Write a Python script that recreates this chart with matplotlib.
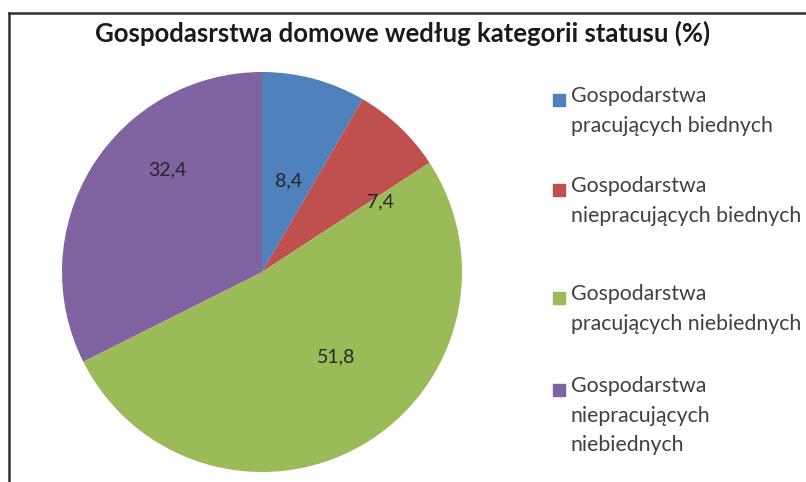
import matplotlib
matplotlib.use("Agg")
import matplotlib.pyplot as plt
from matplotlib.lines import Line2D
from matplotlib.patches import Rectangle
import numpy as np

title = "Gospodasrstwa domowe według kategorii statusu (%)"
categories = [
    "Gospodarstwa\npracujących biednych",
    "Gospodarstwa\nniepracujących biednych",
    "Gospodarstwa\npracujących niebiednych",
    "Gospodarstwa\nniepracujących\nniebiednych",
]
values = [8.4, 7.4, 51.8, 32.4]
value_labels = ["8,4", "7,4", "51,8", "32,4"]
colors = ["#4F81BD", "#C0504D", "#9BBB59", "#8064A2"]

plt.rcParams["font.family"] = ["Lato", "DejaVu Sans"]

fig = plt.figure(figsize=(8.06, 4.82), dpi=100)

# frame (only left and top edges are visible in the crop)
fig.add_artist(Line2D([9 / 806, 9 / 806], [0, 1 - 13 / 482], transform=fig.transFigure,
                      color="#303030", lw=1.8))
fig.add_artist(Line2D([9 / 806, 1], [1 - 13 / 482, 1 - 13 / 482], transform=fig.transFigure,
                      color="#303030", lw=1.8))

fig.text(0.5, 1 - 33 / 482, title, ha="center", va="center", fontsize=18.5,
         fontweight="bold", color="#1a1a1a")

ax = fig.add_axes([62 / 806, 10 / 482, 400 / 806, 400 / 482])
wedges, _ = ax.pie(values, colors=colors, startangle=90, counterclock=False,
                   wedgeprops=dict(linewidth=0))
ax.set_xlim(-1, 1)
ax.set_ylim(-1, 1)
ax.set_aspect("equal")

# label placement (radius, angle in degrees), Excel-style offsets
label_pos = [(0.475, 73.5), (0.686, 30.7), (0.563, -49.0), (0.695, 132.7)]
for lab, (r, a) in zip(value_labels, label_pos):
    t = np.deg2rad(a)
    ax.text(r * np.cos(t), r * np.sin(t), lab, ha="center", va="center",
            fontsize=14, color="#262626")

# legend drawn manually to follow the uneven spacing
legend_y = [100, 190, 298, 390]
for cat, col, y in zip(categories, colors, legend_y):
    fig.add_artist(Rectangle((553 / 806, 1 - (y + 6) / 482), 12 / 806, 12 / 482,
                             transform=fig.transFigure, color=col))
    fig.text(571 / 806, 1 - (y - 14) / 482, cat, ha="left", va="top", fontsize=15.3,
             color="#404040", linespacing=1.6)

fig.savefig("out.png", dpi=100)
